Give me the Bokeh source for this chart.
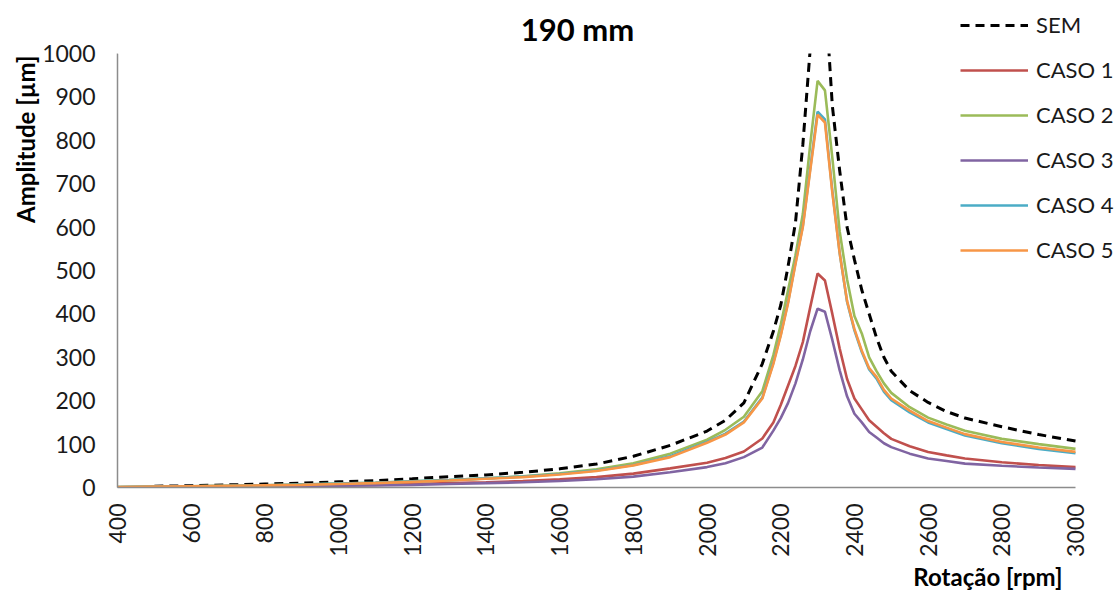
import math
from bokeh.plotting import figure
from bokeh.models import (Range1d, FixedTicker, Legend, LegendItem, Label, Title,
                          BoxAnnotation)
from bokeh.embed import file_html
from bokeh.resources import INLINE

# ---------------- data ----------------
rpm = [400, 500, 600, 700, 800, 900, 1000, 1100, 1200, 1300, 1400, 1500, 1600, 1700,
       1800, 1900, 2000, 2050, 2100, 2150, 2180, 2200, 2220, 2240, 2260, 2280, 2300,
       2320, 2340, 2360, 2380, 2400, 2420, 2440, 2460, 2480, 2500, 2550, 2600, 2650,
       2700, 2800, 2900, 3000]

rpm_sem = rpm[1:]
sem = [3, 4, 6, 8, 10, 13, 16, 20, 25, 29, 35, 43, 54,
       72, 97, 130, 155, 195, 285, 360, 420, 510, 610, 790, 1010, 1400,
       1150, 880, 730, 600, 525, 455, 400, 345, 300, 268, 223, 196, 175,
       160, 140, 122, 107]

caso1 = [0.5, 1, 1.5, 2, 3, 4, 5, 6, 8, 10, 12, 15, 19, 24,
         32, 44, 57, 68, 83, 113, 150, 190, 235, 280, 335, 415, 493,
         477, 400, 320, 250, 205, 180, 155, 140, 125, 112, 95, 82, 74,
         67, 58, 52, 47]

caso2 = [1, 2, 3, 4, 5, 7, 9, 11, 14, 17, 21, 26, 33, 42,
         56, 78, 110, 133, 163, 222, 305, 375, 455, 535, 630, 790, 937,
         915, 760, 590, 480, 395, 355, 300, 268, 240, 218, 185, 161, 145,
         131, 112, 100, 89]

caso3 = [0.3, 0.5, 1, 1.5, 2, 3, 4, 5, 6, 8, 10, 12, 15, 19,
         25, 35, 47, 56, 70, 92, 131, 160, 195, 240, 295, 360, 412,
         405, 340, 270, 210, 170, 150, 128, 115, 102, 93, 78, 67, 61,
         55, 50, 46, 43]

caso4 = [1, 2, 3, 4, 5, 7, 9, 11, 14, 17, 21, 25, 31, 39,
         52, 72, 105, 124, 152, 207, 288, 352, 428, 518, 603, 735, 866,
         848, 684, 540, 428, 362, 312, 272, 251, 221, 201, 173, 150, 135,
         120, 102, 89, 79]

caso5 = [1, 2, 3, 4, 5, 6, 8, 10, 13, 16, 20, 24, 30, 38,
         51, 70, 103, 122, 150, 205, 285, 350, 425, 515, 600, 730, 859,
         841, 680, 540, 430, 365, 315, 275, 255, 225, 205, 177, 153, 138,
         123, 105, 92, 82]

series_names = ["SEM", "CASO 1", "CASO 2", "CASO 3", "CASO 4", "CASO 5"]
series_colors = ["#000000", "#C0504D", "#9BBB59", "#8064A2", "#4BACC6", "#F79646"]

x_ticks = list(range(400, 3001, 200))
y_ticks = list(range(0, 1001, 100))
X_MIN, X_MAX = 400, 3000
Y_MIN, Y_MAX = 0, 1000

FONT = "Lato"

# ---------------- layout ----------------
W, H = 1115, 593
LEFT = 117                           # axes left edge on canvas
AX_TOP = 53                          # y=1000 on canvas
AX_W, AX_H = 958, 434                # size of the axes area (400..3000, 0..1000)
BOTTOM = H - (AX_TOP + AX_H)
px_per_x = AX_W / (X_MAX - X_MIN)
px_per_y = AX_H / (Y_MAX - Y_MIN)
frame_w = W - LEFT
frame_h = H - BOTTOM
x_end = X_MIN + frame_w / px_per_x   # frame extends past 3000 to hold the legend
y_end = Y_MIN + frame_h / px_per_y   # frame extends above 1000 to hold title/legend

p = figure(width=W, height=H, output_backend="svg", toolbar_location=None,
           x_range=Range1d(X_MIN, x_end), y_range=Range1d(Y_MIN, y_end),
           min_border_left=LEFT, min_border_right=0, min_border_top=0,
           min_border_bottom=BOTTOM)
p.outline_line_color = None
p.xgrid.grid_line_color = None
p.ygrid.grid_line_color = None
p.background_fill_color = "white"
p.border_fill_color = "white"

for ax in (p.xaxis[0], p.yaxis[0]):
    ax.axis_line_color = "#8c8c8c"
    ax.axis_line_width = 1.5
    ax.major_tick_line_color = None
    ax.minor_tick_line_color = None
    ax.major_tick_out = 0
    ax.major_tick_in = 0
    ax.minor_tick_out = 0
    ax.minor_tick_in = 0
    ax.major_label_text_font = FONT
    ax.major_label_text_font_size = "23px"
    ax.major_label_text_color = "#1a1a1a"

p.xaxis.ticker = FixedTicker(ticks=x_ticks)
p.yaxis.ticker = FixedTicker(ticks=y_ticks)
p.xaxis.bounds = (X_MIN, X_MAX)
p.yaxis.bounds = (Y_MIN, Y_MAX)
p.xaxis.major_label_orientation = math.pi / 2
p.xaxis.major_label_standoff = 16
p.yaxis.major_label_standoff = 22

ys = [sem, caso1, caso2, caso3, caso4, caso5]
renderers = []
for name, col, yv in zip(series_names, series_colors, ys):
    xv = rpm_sem if name == "SEM" else rpm
    if name == "SEM":
        r = p.line(xv, yv, line_color=col, line_width=3, line_dash="9 6")
    else:
        r = p.line(xv, yv, line_color=col, line_width=2.6)
    renderers.append(r)

# white mask above the axes area (plot area ends at 1000)
p.add_layout(BoxAnnotation(bottom=Y_MAX, fill_color="white", fill_alpha=1.0,
                           line_color=None))

legend = Legend(items=[LegendItem(label=n, renderers=[r]) for n, r in zip(series_names, renderers)],
                location=(843, 224), glyph_width=68, glyph_height=20, label_height=20,
                spacing=18, padding=0, margin=0, label_standoff=8,
                background_fill_alpha=0, border_line_alpha=0,
                label_text_font=FONT, label_text_font_size="22px",
                label_text_color="#1a1a1a")
p.add_layout(legend, "center")

# chart title
p.add_layout(Label(x=460, y=459, x_units="screen", y_units="screen", text="190 mm",
                   text_font=FONT, text_font_size="31px", text_font_style="bold",
                   text_align="center", text_baseline="middle", text_color="#000000"))

# axis titles
p.add_layout(Title(text="Amplitude [µm]", align="right", offset=55, standoff=0,
                   text_font=FONT, text_font_size="24px", text_font_style="bold",
                   text_color="#000000"), "left")
p.add_layout(Title(text="Rotação [rpm]", align="right", offset=53, standoff=0,
                   text_font=FONT, text_font_size="24px", text_font_style="bold",
                   text_color="#000000"), "below")

open("out.html", "w").write(file_html(p, INLINE))
